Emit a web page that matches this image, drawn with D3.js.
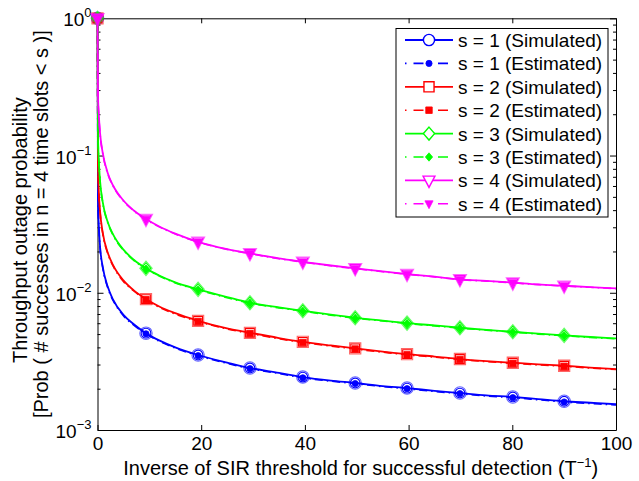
<!DOCTYPE html>
<html>
<head>
<meta charset="utf-8">
<script src="https://cdn.jsdelivr.net/npm/d3@7"></script>
<style>
  html, body { margin: 0; padding: 0; background: #ffffff; }
  text { font-family: "Liberation Sans", Arial, Helvetica, sans-serif; fill: #000; }
</style>
</head>
<body>
<svg id="chart" width="639" height="481"></svg>
<script>
// Inverse SIR threshold (T^-1) at which each curve is sampled
const xGrid = [0, 0.1, 0.25, 0.5, 1, 2, 3, 5, 7, 9.35, 12, 15, 19.4, 25, 29.4, 35, 39.6, 45,
               49.7, 55, 59.7, 65, 69.9, 75, 80.1, 85, 90, 95, 100];
// Points of the grid that carry a marker
const markerX = [0, 9.35, 19.4, 29.4, 39.6, 49.7, 59.7, 69.9, 80.1, 90];

// Throughput outage probability, s = 1..4
const sim1 = [1, 0.045, 0.031, 0.0215, 0.0155, 0.011, 0.0089, 0.0069, 0.0059, 0.00508, 0.00448, 0.0040,
              0.00352, 0.0031, 0.00283, 0.00261, 0.00243, 0.00229, 0.0022, 0.00209, 0.00202, 0.00193,
              0.00186, 0.00179, 0.00174, 0.00168, 0.00162, 0.00158, 0.00154];
const est1 = [1, 0.044, 0.0305, 0.0212, 0.0153, 0.0108, 0.0088, 0.0068, 0.0058, 0.00502, 0.00442, 0.00395,
              0.00348, 0.00306, 0.0028, 0.00258, 0.0024, 0.00227, 0.00218, 0.00207, 0.002, 0.00191,
              0.00184, 0.00177, 0.00172, 0.00166, 0.0016, 0.00156, 0.00152];
const sim2 = [1, 0.085, 0.055, 0.039, 0.0275, 0.0195, 0.0159, 0.0123, 0.0104, 0.009, 0.0079, 0.0071,
              0.00625, 0.0055, 0.00511, 0.00468, 0.00439, 0.00413, 0.00393, 0.00373, 0.00357, 0.00343,
              0.00329, 0.00318, 0.00309, 0.00301, 0.00294, 0.00285, 0.00278];
const est2 = [1, 0.083, 0.054, 0.0385, 0.0272, 0.0192, 0.0157, 0.0121, 0.0103, 0.0089, 0.0078, 0.007,
              0.00618, 0.00545, 0.00505, 0.00463, 0.00434, 0.00409, 0.00389, 0.00369, 0.00353, 0.0034,
              0.00326, 0.00315, 0.00306, 0.00298, 0.00291, 0.00283, 0.00276];
const sim3 = [1, 0.14, 0.092, 0.065, 0.046, 0.0325, 0.0266, 0.0206, 0.0174, 0.01506, 0.0133, 0.0119,
              0.01059, 0.0093, 0.00846, 0.00782, 0.00739, 0.00692, 0.00657, 0.00627, 0.00601, 0.00578,
              0.00556, 0.00537, 0.0052, 0.00503, 0.00489, 0.00476, 0.00465];
const est3 = [1, 0.138, 0.091, 0.064, 0.0455, 0.0322, 0.0263, 0.0204, 0.0172, 0.0149, 0.0132, 0.0118,
              0.0105, 0.0092, 0.0084, 0.00776, 0.00734, 0.00687, 0.00652, 0.00623, 0.00597, 0.00574,
              0.00552, 0.00534, 0.00517, 0.005, 0.00486, 0.00473, 0.00462];
const sim4 = [1, 0.27, 0.2, 0.145, 0.105, 0.074, 0.0605, 0.047, 0.0398, 0.03446, 0.0303, 0.027,
              0.02353, 0.0208, 0.01937, 0.0178, 0.01682, 0.0158, 0.01506, 0.0143, 0.01369, 0.0131,
              0.01252, 0.0122, 0.01185, 0.0115, 0.01125, 0.011, 0.01076];
const est4 = [1, 0.265, 0.197, 0.143, 0.104, 0.0732, 0.06, 0.0466, 0.0395, 0.0342, 0.0301, 0.0268,
              0.0234, 0.0207, 0.0193, 0.0177, 0.01673, 0.01572, 0.01499, 0.01424, 0.01363, 0.01305,
              0.01247, 0.01216, 0.01181, 0.01146, 0.01121, 0.01096, 0.01072];

const seriesLabels = ["s = 1 (Simulated)", "s = 1 (Estimated)", "s = 2 (Simulated)", "s = 2 (Estimated)",
                      "s = 3 (Simulated)", "s = 3 (Estimated)", "s = 4 (Simulated)", "s = 4 (Estimated)"];
const xTicks = [0, 20, 40, 60, 80, 100];
const yDecades = [1e-3, 1e-2, 1e-1, 1];
const yDecadeExp = ["\u22123", "\u22122", "\u22121", "0"];
const xTitle = "Inverse of SIR threshold for successful detection (T";
const xTitleSup = "\u22121";
const yTitle1 = "Throughput outage probability";
const yTitle2 = "[Prob ( # successes in n = 4 time slots < s )]";

const series = [
  { label: seriesLabels[0], values: sim1, color: "#0000ff", dashed: false, shape: "circle" },
  { label: seriesLabels[1], values: est1, color: "#0000ff", dashed: true,  shape: "circle" },
  { label: seriesLabels[2], values: sim2, color: "#ff0000", dashed: false, shape: "square" },
  { label: seriesLabels[3], values: est2, color: "#ff0000", dashed: true,  shape: "square" },
  { label: seriesLabels[4], values: sim3, color: "#00ff00", dashed: false, shape: "diamond" },
  { label: seriesLabels[5], values: est3, color: "#00ff00", dashed: true,  shape: "diamond" },
  { label: seriesLabels[6], values: sim4, color: "#ff00ff", dashed: false, shape: "triangle" },
  { label: seriesLabels[7], values: est4, color: "#ff00ff", dashed: true,  shape: "triangle" }
];

const FS = "19px", FS_TITLE = "20px", FS_SUP = "13px";

const svg = d3.select("#chart");
const L = 97.5, R = 616, T = 18.3, B = 430;

const x = d3.scaleLinear().domain([0, 100]).range([L, R]);
const y = d3.scaleLog().domain([1e-3, 1]).range([B, T]);

// Marker outlines, centred on the data point; k scales the shape
function shapePath(shape, k) {
  if (shape === "circle") {
    const r = 6.2 * k;
    return `M${-r},0A${r},${r} 0 1,0 ${r},0A${r},${r} 0 1,0 ${-r},0Z`;
  }
  if (shape === "square") {
    const h = 5.6 * k;
    return `M${-h},${-h}H${h}V${h}H${-h}Z`;
  }
  if (shape === "diamond") {
    const h = 7.2 * k, w = 6.2 * k;
    return `M0,${-h}L${w},0L0,${h}L${-w},0Z`;
  }
  // downward triangle
  const w = 6.6 * k, top = -4.8 * k, bot = 7.8 * k;
  return `M${-w},${top}H${w}L0,${bot}Z`;
}

// ---- axes (ticks point into the plot) ----
const minorVals = [];
for (let e = -3; e < 0; e++) for (let m = 2; m <= 9; m++) minorVals.push(m * Math.pow(10, e));

const axisG = svg.append("g").attr("class", "axes");

axisG.append("g").attr("transform", `translate(0,${B})`)
  .call(d3.axisBottom(x).tickValues(xTicks).tickSizeInner(-5).tickSizeOuter(0).tickPadding(7).tickFormat(d3.format("d")))
  .call(g => g.selectAll("text").style("font-size", FS).attr("font-family", null));
axisG.append("g").attr("transform", `translate(0,${T})`)
  .call(d3.axisTop(x).tickValues(xTicks).tickSizeInner(-5).tickSizeOuter(0).tickFormat(""));

axisG.append("g").attr("transform", `translate(${L},0)`)
  .call(d3.axisLeft(y).tickValues(yDecades).tickSizeInner(-6).tickSizeOuter(0).tickFormat(""));
axisG.append("g").attr("transform", `translate(${L},0)`)
  .call(d3.axisLeft(y).tickValues(minorVals).tickSizeInner(-3).tickSizeOuter(0).tickFormat(""))
  .call(g => g.select(".domain").remove());
axisG.append("g").attr("transform", `translate(${R},0)`)
  .call(d3.axisRight(y).tickValues(yDecades).tickSizeInner(-6).tickSizeOuter(0).tickFormat(""));
axisG.append("g").attr("transform", `translate(${R},0)`)
  .call(d3.axisRight(y).tickValues(minorVals).tickSizeInner(-3).tickSizeOuter(0).tickFormat(""))
  .call(g => g.select(".domain").remove());

axisG.selectAll("path.domain, .tick line").attr("stroke", "#000").attr("stroke-width", 1);

// decade labels 10^k
const yLab = svg.append("g").selectAll("text").data(yDecades).join("text")
  .attr("x", L - 6).attr("y", d => y(d) + 8)
  .attr("text-anchor", "end").style("font-size", FS);
yLab.append("tspan").text("10");
yLab.append("tspan").attr("dy", -9).style("font-size", FS_SUP).text((d, i) => yDecadeExp[i]);

// axis titles
const xt = svg.append("text").attr("x", (L + R) / 2 + 4).attr("y", 475)
  .attr("text-anchor", "middle").style("font-size", FS_TITLE);
xt.append("tspan").text(xTitle);
xt.append("tspan").attr("dy", -8).style("font-size", FS_SUP).text(xTitleSup);
xt.append("tspan").attr("dy", 8).text(")");

svg.append("text").attr("transform", `translate(27,${(T + B) / 2 + 6}) rotate(-90)`)
  .attr("text-anchor", "middle").style("font-size", FS_TITLE).text(yTitle1);
svg.append("text").attr("transform", `translate(48,${(T + B) / 2}) rotate(-90)`)
  .attr("text-anchor", "middle").style("font-size", FS_TITLE).text(yTitle2);

// ---- curves ----
const plot = svg.append("g");
const line = d3.line()
  .x((d, i) => x(xGrid[i]))
  .y(d => y(d))
  .curve(d3.curveMonotoneX);

series.forEach(s => {
  plot.append("path")
    .attr("d", line(s.values))
    .attr("fill", "none")
    .attr("stroke", s.color)
    .attr("stroke-width", s.dashed ? 1.6 : 1.8)
    .attr("stroke-dasharray", s.dashed ? "8,4,1.5,4" : null);

  const pts = xGrid.map((xv, i) => ({ xv, v: s.values[i] })).filter(p => markerX.includes(p.xv));
  const mg = plot.append("g");
  if (s.dashed) {
    mg.selectAll("path").data(pts).join("path")
      .attr("transform", p => `translate(${x(p.xv)},${y(p.v)})`)
      .attr("d", shapePath(s.shape, s.shape === "circle" ? 0.5 : s.shape === "triangle" ? 0.62 : 0.58))
      .attr("fill", s.color).attr("stroke", s.color).attr("stroke-width", 0.8);
  } else {
    mg.selectAll("path.o").data(pts).join("path").attr("class", "o")
      .attr("transform", p => `translate(${x(p.xv)},${y(p.v)})`)
      .attr("d", shapePath(s.shape, 1))
      .attr("fill", "none").attr("stroke", s.color).attr("stroke-width", 1.1).attr("stroke-opacity", 0.6);
    mg.selectAll("path.i").data(pts).join("path").attr("class", "i")
      .attr("transform", p => `translate(${x(p.xv)},${y(p.v)})`)
      .attr("d", shapePath(s.shape, 0.78))
      .attr("fill", "none").attr("stroke", s.color).attr("stroke-width", 1.1);
  }
});

// ---- legend ----
const lg = svg.append("g");
const lx = 396, ly = 28.5, lw = 212, lh = 188.5, row0 = 40, rowH = 23.4;
lg.append("rect").attr("x", lx).attr("y", ly).attr("width", lw).attr("height", lh)
  .attr("fill", "#fff").attr("stroke", "#000").attr("stroke-width", 1);
series.forEach((s, i) => {
  const cy = row0 + i * rowH;
  lg.append("line").attr("x1", 405).attr("x2", 453).attr("y1", cy).attr("y2", cy)
    .attr("stroke", s.color).attr("stroke-width", s.dashed ? 1.6 : 1.8)
    .attr("stroke-dasharray", s.dashed ? "1.5,7,10,6" : null);
  lg.append("path").attr("transform", `translate(429,${cy})`)
    .attr("d", s.dashed ? shapePath(s.shape, s.shape === "circle" ? 0.5 : s.shape === "triangle" ? 0.62 : 0.58)
                        : shapePath(s.shape, 0.9))
    .attr("fill", s.dashed ? s.color : "#fff")
    .attr("stroke", s.color).attr("stroke-width", s.dashed ? 0.8 : 1.4);
  lg.append("text").attr("x", 458).attr("y", cy + 7).style("font-size", FS).text(s.label);
});
</script>
</body>
</html>
